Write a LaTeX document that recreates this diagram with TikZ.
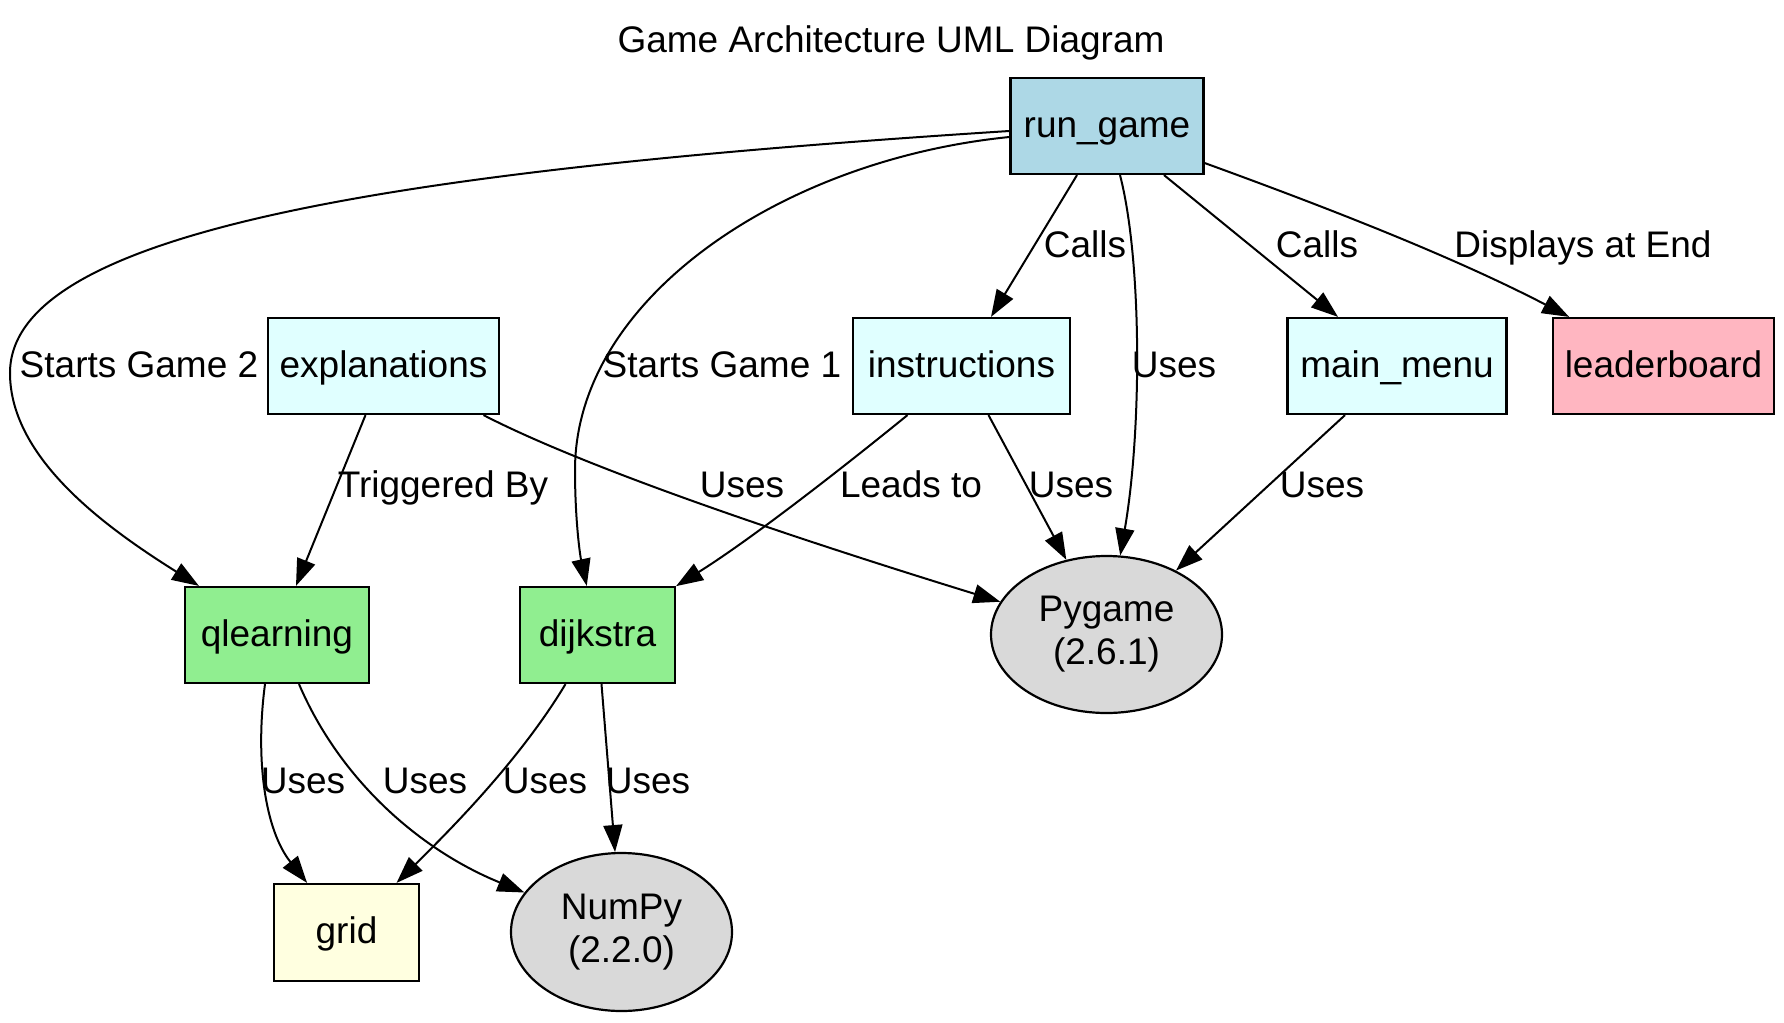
\documentclass[tikz,border=0pt]{standalone}
\usepackage{fontspec}
\setmainfont{Liberation Sans}
\usetikzlibrary{arrows.meta,shapes.geometric}
\definecolor{runblue}{HTML}{ADD8E6}
\definecolor{cyanl}{HTML}{E0FFFF}
\definecolor{pinkl}{HTML}{FFB6C1}
\definecolor{greenl}{HTML}{90EE90}
\definecolor{yellowl}{HTML}{FFFFE0}
\definecolor{libgray}{HTML}{D9D9D9}
\begin{document}
\begin{tikzpicture}[x=1pt,y=-1pt,
  every node/.style={font=\fontsize{37}{43}\selectfont},
  box/.style={draw=black, line width=2.2pt, rectangle, inner sep=0pt, minimum height=96pt, text height=27pt, text depth=5pt},
  lib/.style={draw=black, line width=2.2pt, ellipse, inner sep=0pt, fill=libgray, align=center},
  edge/.style={line width=2pt, -{Triangle[length=27pt,width=19pt]}},
  lbl/.style={anchor=base, inner sep=0pt}
]
\useasboundingbox (0,0) rectangle (1784,1022);
\fill[white] (0,0) rectangle (1784,1022);

% nodes
\node[lbl] (title) at (891,53) {Game Architecture UML Diagram};
\node[box, fill=runblue, minimum width=193pt] (rungame) at (1107,126) {run\_game};
\node[box, fill=cyanl, minimum width=231pt] (explanations) at (383.5,366) {explanations};
\node[box, fill=cyanl, minimum width=217pt] (instructions) at (961.5,366) {instructions};
\node[box, fill=cyanl, minimum width=219pt] (mainmenu) at (1397,366) {main\_menu};
\node[box, fill=pinkl, minimum width=221pt] (leaderboard) at (1663.5,366) {leaderboard};
\node[box, fill=greenl, minimum width=184pt] (qlearning) at (277,635) {qlearning};
\node[box, fill=greenl, minimum width=155pt] (dijkstra) at (597.5,635) {dijkstra};
\node[box, fill=yellowl, minimum width=145pt, minimum height=97pt] (grid) at (346.5,932.5) {grid};
\node[lib, minimum width=231pt, minimum height=157pt] (pygame) at (1106.5,634.5) {Pygame\\(2.6.1)};
\node[lib, minimum width=221pt, minimum height=158pt] (numpy) at (621.5,932) {NumPy\\(2.2.0)};

% edges
\draw[edge] ([yshift=-5pt]rungame.west) .. controls (400,170) and (10,230) .. (10,373)
  .. controls (10,460) and (110,530) .. (qlearning);
\draw[edge] ([yshift=-11pt]rungame.west) .. controls (780,160) and (575,300) .. (575,470)
  .. controls (575,520) and (580,555) .. (dijkstra);
\draw[edge] ([xshift=-30pt]rungame.south) -- ([xshift=29.5pt]instructions.north);
\draw[edge] ([xshift=13pt]rungame.south) .. controls (1142,260) and (1142,430) .. (pygame);
\draw[edge] ([xshift=57pt]rungame.south) -- ([xshift=-59pt]mainmenu.north);
\draw[edge] ([yshift=-37pt]rungame.east) .. controls (1320,205) and (1450,255) .. (leaderboard);
\draw[edge] ([xshift=-18pt]explanations.south) -- ([xshift=19pt]qlearning.north);
\draw[edge] ([xshift=100pt]explanations.south) .. controls (590,470) and (800,540) .. (pygame);
\draw[edge] ([xshift=-54pt]instructions.south) .. controls (840,470) and (750,540) .. (dijkstra);
\draw[edge] ([xshift=27pt]instructions.south) -- (pygame);
\draw[edge] ([xshift=-52pt]mainmenu.south) -- (pygame);
\draw[edge] ([xshift=-12pt]qlearning.south) .. controls (255,760) and (265,830) .. (grid);
\draw[edge] ([xshift=22pt]qlearning.south) .. controls (340,780) and (420,850) .. (numpy);
\draw[edge] ([xshift=-32pt]dijkstra.south) .. controls (520,760) and (450,830) .. (grid);
\draw[edge] ([xshift=4pt]dijkstra.south) -- (numpy);

% edge labels
\node[lbl] (l1) at (139,377) {Starts Game 2};
\node[lbl] (l2) at (722,377) {Starts Game 1};
\node[lbl] (l3) at (1085,257) {Calls};
\node[lbl] (l4) at (1174,377) {Uses};
\node[lbl] (l5) at (1317,257) {Calls};
\node[lbl] (l6) at (1583,257) {Displays at End};
\node[lbl] (l7) at (443,497) {Triggered By};
\node[lbl] (l8) at (742,497) {Uses};
\node[lbl] (l9) at (911,497) {Leads to};
\node[lbl] (l10) at (1071,497) {Uses};
\node[lbl] (l11) at (1322,497) {Uses};
\node[lbl] (l12) at (303,793) {Uses};
\node[lbl] (l13) at (425,793) {Uses};
\node[lbl] (l14) at (545,793) {Uses};
\node[lbl] (l15) at (648,793) {Uses};
\end{tikzpicture}
\end{document}
